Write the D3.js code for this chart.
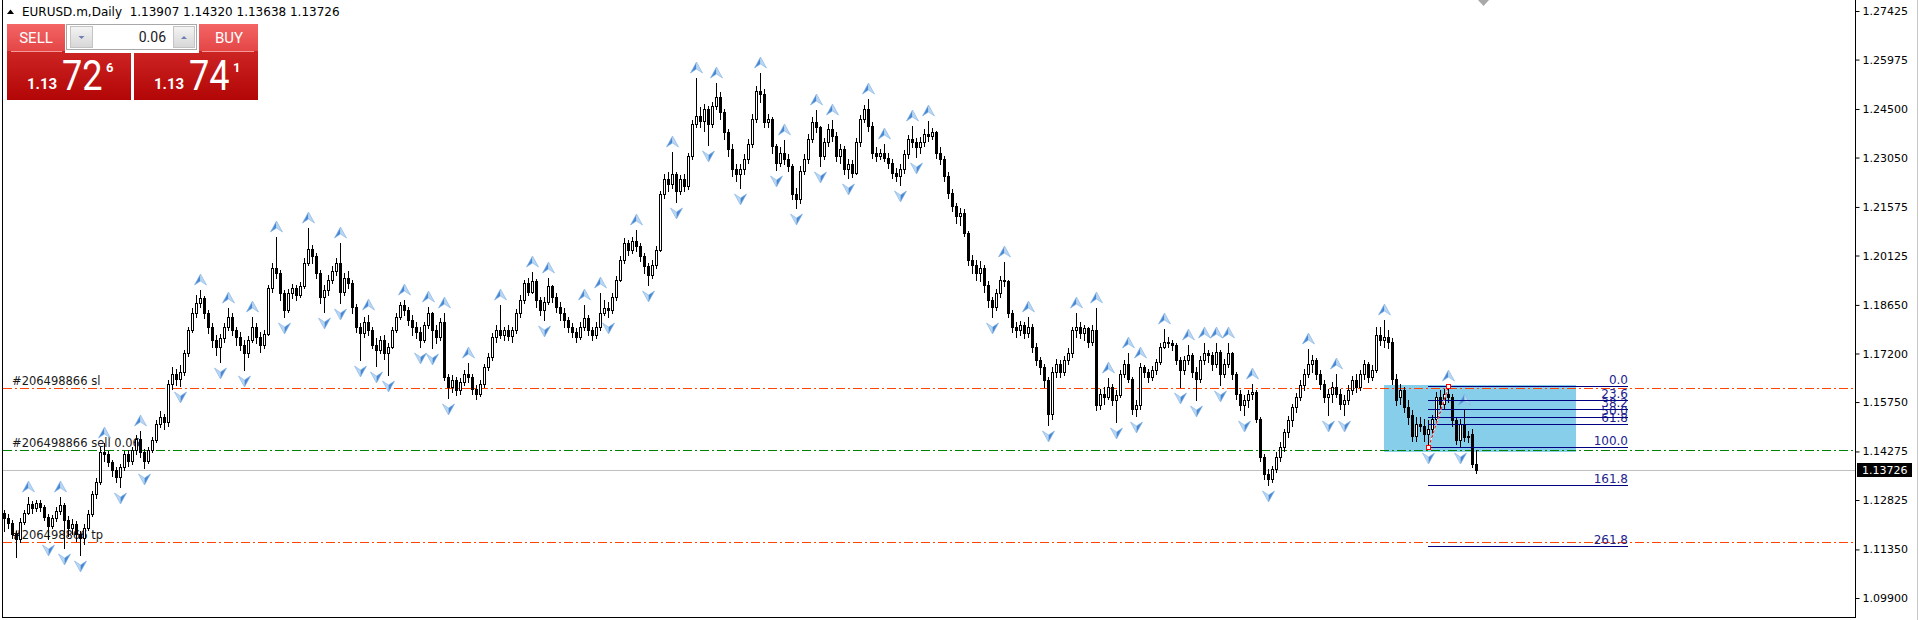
<!DOCTYPE html>
<html>
<head>
<meta charset="utf-8">
<script src="https://cdn.jsdelivr.net/npm/d3@7"></script>
<style>
  body { margin: 0; background: #fff; overflow: hidden; }
  svg { display: block; }
  text { font-family: "DejaVu Sans", sans-serif; }
</style>
</head>
<body>
<svg id="chart" width="1919" height="620"></svg>
<script>
// EURUSD.m daily bars (oldest first)
var opens = [
1.1245,1.1228,1.1215,1.1180,1.1165,1.1218,1.1245,1.1272,1.1258,1.1275,
1.1262,1.1232,1.1205,1.1228,1.1250,1.1268,1.1222,1.1200,1.1212,1.1180,
1.1170,1.1200,1.1240,1.1300,1.1335,1.1425,1.1420,1.1395,1.1372,1.1350,
1.1382,1.1420,1.1398,1.1432,1.1465,1.1425,1.1400,1.1432,1.1462,1.1510,
1.1530,1.1515,1.1630,1.1660,1.1645,1.1665,1.1720,1.1790,1.1840,1.1870,
1.1885,1.1840,1.1800,1.1760,1.1740,1.1765,1.1800,1.1830,1.1790,1.1770,
1.1745,1.1720,1.1760,1.1800,1.1770,1.1745,1.1778,1.1915,1.1975,1.1960,
1.1900,1.1850,1.1900,1.1915,1.1895,1.1920,1.1990,1.2032,1.2010,1.1960,
1.1890,1.1910,1.1940,1.1965,1.1990,1.1905,1.1945,1.1930,1.1860,1.1800,
1.1780,1.1815,1.1790,1.1745,1.1730,1.1760,1.1720,1.1740,1.1790,1.1830,
1.1865,1.1850,1.1820,1.1800,1.1785,1.1760,1.1805,1.1840,1.1790,1.1770,
1.1814,1.1650,1.1620,1.1640,1.1610,1.1635,1.1660,1.1650,1.1615,1.1600,
1.1630,1.1680,1.1710,1.1770,1.1790,1.1775,1.1790,1.1772,1.1790,1.1840,
1.1880,1.1930,1.1905,1.1935,1.1880,1.1850,1.1875,1.1920,1.1890,1.1860,
1.1840,1.1820,1.1800,1.1785,1.1770,1.1800,1.1825,1.1790,1.1775,1.1800,
1.1840,1.1855,1.1850,1.1890,1.1940,1.2000,1.2050,1.2030,1.2055,1.2040,
1.2010,1.1980,1.1955,1.1985,1.2030,1.2195,1.2240,1.2225,1.2255,1.2205,
1.2240,1.2220,1.2310,1.2405,1.2430,1.2415,1.2450,1.2405,1.2460,1.2485,
1.2440,1.2380,1.2330,1.2270,1.2255,1.2270,1.2300,1.2345,1.2420,1.2505,
1.2495,1.2410,1.2420,1.2340,1.2290,1.2320,1.2300,1.2280,1.2195,1.2180,
1.2265,1.2300,1.2360,1.2410,1.2395,1.2310,1.2350,1.2390,1.2370,1.2310,
1.2330,1.2270,1.2285,1.2260,1.2350,1.2420,1.2450,1.2400,1.2320,1.2310,
1.2318,1.2305,1.2290,1.2260,1.2250,1.2270,1.2315,1.2360,1.2350,1.2335,
1.2350,1.2375,1.2370,1.2380,1.2320,1.2300,1.2250,1.2200,1.2160,1.2130,
1.2140,1.2080,1.2000,1.1985,1.1960,1.1975,1.1925,1.1880,1.1860,1.1900,
1.1940,1.1935,1.1840,1.1800,1.1790,1.1805,1.1780,1.1800,1.1740,1.1700,
1.1680,1.1640,1.1540,1.1665,1.1690,1.1665,1.1700,1.1720,1.1790,1.1800,
1.1780,1.1795,1.1755,1.1790,1.1566,1.1600,1.1590,1.1620,1.1580,1.1595,
1.1660,1.1690,1.1645,1.1555,1.1565,1.1680,1.1665,1.1650,1.1670,1.1695,
1.1740,1.1755,1.1750,1.1745,1.1700,1.1670,1.1700,1.1715,1.1665,1.1645,
1.1700,1.1720,1.1715,1.1690,1.1725,1.1660,1.1690,1.1720,1.1660,1.1600,
1.1565,1.1580,1.1600,1.1605,1.1525,1.1410,1.1360,1.1345,1.1375,1.1410,
1.1440,1.1485,1.1520,1.1560,1.1590,1.1625,1.1660,1.1690,1.1700,1.1660,
1.1630,1.1590,1.1600,1.1620,1.1600,1.1570,1.1580,1.1610,1.1640,1.1620,
1.1660,1.1690,1.1650,1.1672,1.1775,1.1760,1.1770,1.1755,1.1645,1.1590,
1.1610,1.1560,1.1535,1.1475,1.1510,1.1505,1.1480,1.1495,1.1525,1.1590,
1.1570,1.1600,1.1590,1.1520,1.1462,1.1510,1.1470,1.1480,1.13907
];
var highs = [
1.1252,1.1240,1.1222,1.1190,1.1228,1.1252,1.1292,1.1280,1.1284,1.1282,
1.1268,1.1240,1.1238,1.1262,1.1292,1.1275,1.1235,1.1225,1.1220,1.1190,
1.1210,1.1252,1.1310,1.1348,1.1440,1.1452,1.1430,1.1402,1.1382,1.1390,
1.1428,1.1432,1.1442,1.1478,1.1488,1.1435,1.1442,1.1472,1.1522,1.1548,
1.1540,1.1642,1.1680,1.1675,1.1685,1.1730,1.1800,1.1855,1.1895,1.1910,
1.1892,1.1850,1.1810,1.1775,1.1778,1.1812,1.1856,1.1840,1.1800,1.1785,
1.1760,1.1772,1.1829,1.1810,1.1785,1.1790,1.1925,1.1990,1.2068,1.1970,
1.1910,1.1912,1.1928,1.1925,1.1932,1.2005,1.2095,1.2045,1.2020,1.1968,
1.1925,1.1955,1.1980,1.2005,1.2050,1.1960,1.1965,1.1940,1.1868,1.1812,
1.1828,1.1835,1.1800,1.1765,1.1772,1.1775,1.1752,1.1800,1.1842,1.1875,
1.1880,1.1860,1.1835,1.1815,1.1800,1.1815,1.1859,1.1845,1.1805,1.1825,
1.1841,1.1660,1.1655,1.1650,1.1648,1.1672,1.1692,1.1660,1.1625,1.1642,
1.1690,1.1722,1.1780,1.1805,1.1865,1.1800,1.1805,1.1800,1.1852,1.1895,
1.1940,1.1945,1.1963,1.1942,1.1890,1.1890,1.1945,1.1925,1.1900,1.1875,
1.1855,1.1830,1.1810,1.1795,1.1815,1.1865,1.1835,1.1800,1.1815,1.1901,
1.1880,1.1875,1.1902,1.1950,1.2012,1.2065,1.2060,1.2068,1.2089,1.2050,
1.2020,1.1990,1.1998,1.2040,1.2205,1.2255,1.2262,1.2321,1.2262,1.2252,
1.2255,1.2320,1.2418,1.2543,1.2455,1.2465,1.2460,1.2472,1.2527,1.2500,
1.2450,1.2390,1.2345,1.2285,1.2285,1.2315,1.2360,1.2435,1.2520,1.2557,
1.2510,1.2435,1.2425,1.2345,1.2335,1.2357,1.2315,1.2285,1.2215,1.2280,
1.2315,1.2375,1.2425,1.2447,1.2400,1.2362,1.2405,1.2417,1.2380,1.2345,
1.2340,1.2300,1.2298,1.2362,1.2432,1.2462,1.2480,1.2410,1.2335,1.2330,
1.2345,1.2320,1.2300,1.2275,1.2285,1.2328,1.2372,1.2399,1.2362,1.2365,
1.2390,1.2414,1.2392,1.2385,1.2335,1.2310,1.2262,1.2210,1.2170,1.2155,
1.2150,1.2085,1.2015,1.2000,1.1995,1.1985,1.1935,1.1890,1.1912,1.1952,
1.1993,1.1940,1.1850,1.1815,1.1818,1.1815,1.1829,1.1808,1.1750,1.1710,
1.1690,1.1650,1.1680,1.1705,1.1700,1.1712,1.1735,1.1800,1.1841,1.1815,
1.1805,1.1800,1.1805,1.1856,1.1615,1.1620,1.1647,1.1628,1.1610,1.1672,
1.1700,1.1722,1.1650,1.1580,1.1692,1.1685,1.1675,1.1682,1.1705,1.1752,
1.1793,1.1770,1.1760,1.1752,1.1710,1.1712,1.1745,1.1722,1.1680,1.1712,
1.1751,1.1730,1.1725,1.1751,1.1730,1.1705,1.1751,1.1725,1.1665,1.1610,
1.1595,1.1612,1.1629,1.1610,1.1530,1.1420,1.1375,1.1385,1.1425,1.1455,
1.1495,1.1532,1.1570,1.1602,1.1640,1.1675,1.1734,1.1715,1.1708,1.1670,
1.1640,1.1615,1.1635,1.1659,1.1615,1.1595,1.1625,1.1652,1.1660,1.1672,
1.1700,1.1695,1.1685,1.1799,1.1800,1.1820,1.1790,1.1765,1.1660,1.1630,
1.1620,1.1580,1.1550,1.1530,1.1530,1.1525,1.1520,1.1535,1.1605,1.1610,
1.1615,1.1623,1.1600,1.1530,1.1525,1.1551,1.1490,1.1495,1.14320
];
var lows = [
1.1190,1.1200,1.1170,1.1112,1.1158,1.1210,1.1240,1.1245,1.1250,1.1250,
1.1222,1.1165,1.1198,1.1220,1.1240,1.1138,1.1175,1.1180,1.1160,1.1118,
1.1150,1.1192,1.1235,1.1290,1.1330,1.1400,1.1385,1.1355,1.1335,1.1320,
1.1372,1.1385,1.1390,1.1420,1.1412,1.1378,1.1392,1.1425,1.1455,1.1500,
1.1495,1.1505,1.1615,1.1625,1.1622,1.1655,1.1712,1.1785,1.1830,1.1860,
1.1825,1.1780,1.1740,1.1715,1.1695,1.1755,1.1790,1.1775,1.1745,1.1730,
1.1671,1.1710,1.1755,1.1750,1.1725,1.1735,1.1775,1.1905,1.1945,1.1880,
1.1829,1.1845,1.1885,1.1880,1.1888,1.1915,1.1985,1.1990,1.1945,1.1870,
1.1844,1.1895,1.1930,1.1955,1.1871,1.1895,1.1915,1.1840,1.1785,1.1701,
1.1770,1.1775,1.1735,1.1683,1.1720,1.1705,1.1656,1.1735,1.1785,1.1822,
1.1835,1.1805,1.1775,1.1765,1.1740,1.1755,1.1795,1.1737,1.1750,1.1760,
1.1640,1.1587,1.1605,1.1595,1.1600,1.1625,1.1635,1.1600,1.1585,1.1592,
1.1620,1.1670,1.1700,1.1755,1.1765,1.1760,1.1760,1.1755,1.1780,1.1830,
1.1870,1.1895,1.1900,1.1860,1.1835,1.1820,1.1868,1.1875,1.1845,1.1820,
1.1800,1.1785,1.1770,1.1755,1.1762,1.1790,1.1775,1.1760,1.1765,1.1790,
1.1835,1.1829,1.1840,1.1880,1.1935,1.1990,1.2015,1.2020,1.2025,1.1995,
1.1960,1.1925,1.1945,1.1975,1.2025,1.2185,1.2205,1.2215,1.2172,1.2195,
1.2205,1.2210,1.2300,1.2395,1.2395,1.2385,1.2342,1.2395,1.2450,1.2420,
1.2360,1.2310,1.2250,1.2235,1.2214,1.2255,1.2290,1.2335,1.2410,1.2470,
1.2395,1.2395,1.2320,1.2268,1.2280,1.2285,1.2265,1.2180,1.2154,1.2170,
1.2255,1.2290,1.2350,1.2380,1.2280,1.2300,1.2340,1.2355,1.2295,1.2290,
1.2255,1.2244,1.2248,1.2255,1.2340,1.2410,1.2385,1.2305,1.2295,1.2300,
1.2295,1.2275,1.2245,1.2235,1.2223,1.2260,1.2305,1.2335,1.2307,1.2320,
1.2340,1.2355,1.2360,1.2305,1.2285,1.2235,1.2185,1.2145,1.2110,1.2105,
1.2070,1.1985,1.1960,1.1940,1.1935,1.1905,1.1860,1.1829,1.1850,1.1890,
1.1920,1.1830,1.1785,1.1770,1.1775,1.1765,1.1770,1.1725,1.1685,1.1660,
1.1620,1.1507,1.1525,1.1650,1.1650,1.1655,1.1690,1.1710,1.1770,1.1765,
1.1760,1.1740,1.1745,1.1550,1.1555,1.1570,1.1585,1.1565,1.1516,1.1590,
1.1650,1.1635,1.1540,1.1534,1.1555,1.1650,1.1635,1.1640,1.1660,1.1690,
1.1735,1.1738,1.1730,1.1690,1.1620,1.1660,1.1690,1.1650,1.1581,1.1635,
1.1690,1.1695,1.1670,1.1680,1.1626,1.1650,1.1680,1.1645,1.1585,1.1550,
1.1537,1.1560,1.1585,1.1515,1.1400,1.1345,1.1328,1.1335,1.1365,1.1400,
1.1430,1.1470,1.1505,1.1545,1.1580,1.1610,1.1650,1.1665,1.1645,1.1615,
1.1575,1.1537,1.1575,1.1590,1.1555,1.1537,1.1570,1.1600,1.1605,1.1610,
1.1645,1.1635,1.1640,1.1665,1.1745,1.1740,1.1735,1.1630,1.1565,1.1570,
1.1545,1.1510,1.1460,1.1460,1.1490,1.1460,1.1440,1.1475,1.1515,1.1545,
1.1555,1.1575,1.1505,1.1450,1.1440,1.1460,1.1455,1.1380,1.13638
];
var closes = [
1.1228,1.1215,1.1180,1.1165,1.1218,1.1245,1.1272,1.1258,1.1275,1.1262,
1.1232,1.1205,1.1228,1.1250,1.1268,1.1222,1.1200,1.1212,1.1180,1.1170,
1.1200,1.1240,1.1300,1.1335,1.1425,1.1420,1.1395,1.1372,1.1350,1.1382,
1.1420,1.1398,1.1432,1.1465,1.1425,1.1400,1.1432,1.1462,1.1510,1.1530,
1.1515,1.1630,1.1660,1.1645,1.1665,1.1720,1.1790,1.1840,1.1870,1.1885,
1.1840,1.1800,1.1760,1.1740,1.1765,1.1800,1.1830,1.1790,1.1770,1.1745,
1.1720,1.1760,1.1800,1.1770,1.1745,1.1778,1.1915,1.1975,1.1960,1.1900,
1.1850,1.1900,1.1915,1.1895,1.1920,1.1990,1.2032,1.2010,1.1960,1.1890,
1.1910,1.1940,1.1965,1.1990,1.1905,1.1945,1.1930,1.1860,1.1800,1.1780,
1.1815,1.1790,1.1745,1.1730,1.1760,1.1720,1.1740,1.1790,1.1830,1.1865,
1.1850,1.1820,1.1800,1.1785,1.1760,1.1805,1.1840,1.1790,1.1770,1.1814,
1.1650,1.1620,1.1640,1.1610,1.1635,1.1660,1.1650,1.1615,1.1600,1.1630,
1.1680,1.1710,1.1770,1.1790,1.1775,1.1790,1.1772,1.1790,1.1840,1.1880,
1.1930,1.1905,1.1935,1.1880,1.1850,1.1875,1.1920,1.1890,1.1860,1.1840,
1.1820,1.1800,1.1785,1.1770,1.1800,1.1825,1.1790,1.1775,1.1800,1.1840,
1.1855,1.1850,1.1890,1.1940,1.2000,1.2050,1.2030,1.2055,1.2040,1.2010,
1.1980,1.1955,1.1985,1.2030,1.2195,1.2240,1.2225,1.2255,1.2205,1.2240,
1.2220,1.2310,1.2405,1.2430,1.2415,1.2450,1.2405,1.2460,1.2485,1.2440,
1.2380,1.2330,1.2270,1.2255,1.2270,1.2300,1.2345,1.2420,1.2505,1.2495,
1.2410,1.2420,1.2340,1.2290,1.2320,1.2300,1.2280,1.2195,1.2180,1.2265,
1.2300,1.2360,1.2410,1.2395,1.2310,1.2350,1.2390,1.2370,1.2310,1.2330,
1.2270,1.2285,1.2260,1.2350,1.2420,1.2450,1.2400,1.2320,1.2310,1.2318,
1.2305,1.2290,1.2260,1.2250,1.2270,1.2315,1.2360,1.2350,1.2335,1.2350,
1.2375,1.2370,1.2380,1.2320,1.2300,1.2250,1.2200,1.2160,1.2130,1.2140,
1.2080,1.2000,1.1985,1.1960,1.1975,1.1925,1.1880,1.1860,1.1900,1.1940,
1.1935,1.1840,1.1800,1.1790,1.1805,1.1780,1.1800,1.1740,1.1700,1.1680,
1.1640,1.1540,1.1665,1.1690,1.1665,1.1700,1.1720,1.1790,1.1800,1.1780,
1.1795,1.1755,1.1790,1.1566,1.1600,1.1590,1.1620,1.1580,1.1595,1.1660,
1.1690,1.1645,1.1555,1.1565,1.1680,1.1665,1.1650,1.1670,1.1695,1.1740,
1.1755,1.1750,1.1745,1.1700,1.1670,1.1700,1.1715,1.1665,1.1645,1.1700,
1.1720,1.1715,1.1690,1.1725,1.1660,1.1690,1.1720,1.1660,1.1600,1.1565,
1.1580,1.1600,1.1605,1.1525,1.1410,1.1360,1.1345,1.1375,1.1410,1.1440,
1.1485,1.1520,1.1560,1.1590,1.1625,1.1660,1.1690,1.1700,1.1660,1.1630,
1.1590,1.1600,1.1620,1.1600,1.1570,1.1580,1.1610,1.1640,1.1620,1.1660,
1.1690,1.1650,1.1672,1.1775,1.1760,1.1770,1.1755,1.1645,1.1580,1.1610,
1.1560,1.1530,1.1475,1.1510,1.1505,1.1480,1.1495,1.1525,1.1590,1.1570,
1.1600,1.1590,1.1520,1.1462,1.1510,1.1470,1.1475,1.13907,1.13726
];

// bar indices that carry a fractal arrow
var upFractals = [6,14,25,34,49,56,62,68,76,84,91,100,106,110,116,124,132,136,145,149,158,167,173,178,189,195,203,207,216,220,227,231,250,256,268,273,276,281,284,290,296,300,303,306,312,326,333,345,361,365];
var downFractals = [11,15,19,29,35,44,54,60,70,80,84,89,93,96,104,107,111,135,151,161,168,176,184,193,198,204,211,224,228,247,261,278,283,294,298,304,310,316,331,335,356,364];

// price axis labels
var priceTicks = [1.27425,1.25975,1.24500,1.23050,1.21575,1.20125,1.18650,1.17200,1.15750,1.14275,1.12825,1.11350,1.09900];

// order lines
var orderLevels = [
  {price: 1.16171, label: "#206498866 sl", color: "#ff4500"},
  {price: 1.14320, label: "#206498866 sell 0.06", color: "#008000"},
  {price: 1.11574, label: "#206498866 tp", color: "#ff4500"}
];
var bid = 1.13726, ask = 1.13741, lots = 0.06;
var header = "EURUSD.m,Daily  1.13907 1.14320 1.13638 1.13726";

// fibonacci retracement and rectangle
var fibFrom = {bar: 356, price: 1.1440}, fibTo = {bar: 361, price: 1.1623};
var fibLevels = [0, 23.6, 38.2, 50.0, 61.8, 100, 161.8, 261.8];
var fibEndBar = 406;
var boxBars = [345, 393], boxPrices = [1.1626, 1.1426];

if (opens.length != closes.length || highs.length != closes.length || lows.length != closes.length) {
  throw new Error("length mismatch " + opens.length + " " + highs.length + " " + lows.length + " " + closes.length);
}

var svg = d3.select("#chart");
var axisX = 1855;
var bottomY = 617;

var x = d3.scaleLinear().domain([0, closes.length - 1]).range([4, 4 + 4 * (closes.length - 1)]);
var y = d3.scaleLinear().domain([1.09900, 1.27425]).range([598, 11]);
var cx = function(i){ return Math.round(x(i)); };
var ry = function(p){ return Math.round(y(p)); };

var bars = closes.map(function(c, i){
  return {i: i, o: opens[i], h: highs[i], l: lows[i], c: c};
});

var defs = svg.append("defs");
var clip = defs.append("clipPath").attr("id", "plot");
clip.append("rect").attr("x", 3).attr("y", 1).attr("width", axisX - 3).attr("height", bottomY - 1);

var plot = svg.append("g").attr("clip-path", "url(#plot)");

// background rectangle object
plot.append("rect")
    .attr("x", x(boxBars[0])).attr("width", x(boxBars[1]) - x(boxBars[0]))
    .attr("y", y(boxPrices[0])).attr("height", y(boxPrices[1]) - y(boxPrices[0]))
    .attr("fill", "#87ceeb");

// bid line
plot.append("line")
    .attr("x1", 3).attr("x2", axisX)
    .attr("y1", ry(bid) + 0.5).attr("y2", ry(bid) + 0.5)
    .attr("stroke", "#c0c0c0");

// order lines
plot.selectAll("line.order").data(orderLevels).enter().append("line")
    .attr("class", "order")
    .attr("x1", 3).attr("x2", axisX)
    .attr("y1", function(d){ return ry(d.price) + 0.5; })
    .attr("y2", function(d){ return ry(d.price) + 0.5; })
    .attr("stroke", function(d){ return d.color; })
    .attr("stroke-dasharray", "9,3,2,3");

plot.selectAll("text.order").data(orderLevels).enter().append("text")
    .attr("class", "order")
    .attr("x", 12).attr("y", function(d){ return ry(d.price) - 3; })
    .style("font-size", "11.5px").attr("fill", "#1a1a1a")
    .text(function(d){ return d.label; });

// candles
var candles = plot.append("g");
candles.selectAll("line.wick").data(bars).enter().append("line")
    .attr("class", "wick")
    .attr("x1", function(d){ return cx(d.i) + 0.5; })
    .attr("x2", function(d){ return cx(d.i) + 0.5; })
    .attr("y1", function(d){ return ry(d.h); })
    .attr("y2", function(d){ return ry(d.l) + 1; })
    .attr("stroke", "#000");

candles.selectAll("rect.bear").data(bars.filter(function(d){ return d.c < d.o; })).enter().append("rect")
    .attr("class", "bear")
    .attr("x", function(d){ return cx(d.i) - 1; })
    .attr("width", 3)
    .attr("y", function(d){ return ry(d.o); })
    .attr("height", function(d){ return Math.max(ry(d.c) - ry(d.o) + 1, 1); })
    .attr("fill", "#000");

candles.selectAll("rect.bull").data(bars.filter(function(d){ return d.c >= d.o; })).enter().append("rect")
    .attr("class", "bull")
    .attr("x", function(d){ return cx(d.i) - 0.5; })
    .attr("width", 2)
    .attr("y", function(d){ return ry(d.c) + 0.5; })
    .attr("height", function(d){ return Math.max(ry(d.o) - ry(d.c), 0); })
    .attr("fill", "#fff").attr("stroke", "#000");

// fractal arrows
var up = plot.selectAll("g.up").data(upFractals).enter().append("g")
    .attr("transform", function(i){ return "translate(" + (cx(i) + 0.5) + "," + (ry(highs[i]) - 10) + ")"; });
up.append("path").attr("d", "M0,-6L-6,5L0,1Z").attr("fill", "#4a89d2");
up.append("path").attr("d", "M0,-6L6,5L0,1Z").attr("fill", "#b9d7f3");
up.append("path").attr("d", "M0,-6L-6,5L0,1L6,5Z").attr("fill", "none").attr("stroke", "#7fb0e2").attr("stroke-width", 0.6);

var dn = plot.selectAll("g.dn").data(downFractals).enter().append("g")
    .attr("transform", function(i){ return "translate(" + (cx(i) + 0.5) + "," + (ry(lows[i]) + 11) + ")"; });
dn.append("path").attr("d", "M0,6L-6,-5L0,-1Z").attr("fill", "#b9d7f3");
dn.append("path").attr("d", "M0,6L6,-5L0,-1Z").attr("fill", "#4a89d2");
dn.append("path").attr("d", "M0,6L-6,-5L0,-1L6,-5Z").attr("fill", "none").attr("stroke", "#7fb0e2").attr("stroke-width", 0.6);

// fibonacci
var fib = plot.append("g");
var fibPrice = function(l){ return fibTo.price - l / 100 * (fibTo.price - fibFrom.price); };
fib.selectAll("text").data(fibLevels).enter().append("text")
    .attr("x", x(fibEndBar)).attr("y", function(l){ return ry(fibPrice(l)) - 2; })
    .attr("text-anchor", "end").style("font-size", "12px").attr("fill", "#23238e")
    .text(function(l){ return l.toFixed(1); });
fib.selectAll("line").data(fibLevels).enter().append("line")
    .attr("x1", x(fibFrom.bar)).attr("x2", x(fibEndBar))
    .attr("y1", function(l){ return ry(fibPrice(l)) + 0.5; })
    .attr("y2", function(l){ return ry(fibPrice(l)) + 0.5; })
    .attr("stroke", "#000080");

var tx1 = cx(fibFrom.bar) + 0.5, ty1 = ry(fibFrom.price) + 0.5;
var tx2 = cx(fibTo.bar) + 0.5, ty2 = ry(fibTo.price) + 0.5;
fib.append("line").attr("x1", tx1).attr("y1", ty1).attr("x2", tx2).attr("y2", ty2).attr("stroke", "#fff");
fib.append("line").attr("x1", tx1).attr("y1", ty1).attr("x2", tx2).attr("y2", ty2)
    .attr("stroke", "#ff0000").attr("stroke-dasharray", "3,2");
[[tx1, ty1], [tx2, ty2]].forEach(function(p){
  fib.append("rect").attr("x", p[0] - 2).attr("y", p[1] - 2).attr("width", 4).attr("height", 4)
     .attr("fill", "#fff").attr("stroke", "#ff0000");
});

// chart shift marker
svg.append("path").attr("d", "M1478,0L1489,0L1483.5,6Z").attr("fill", "#a8a8a8");

// frame and price axis
svg.append("line").attr("x1", 2.5).attr("x2", 2.5).attr("y1", 0).attr("y2", bottomY + 1).attr("stroke", "#000");
svg.append("line").attr("x1", 2).attr("x2", axisX + 1).attr("y1", bottomY + 0.5).attr("y2", bottomY + 0.5).attr("stroke", "#000");
svg.append("line").attr("x1", axisX + 0.5).attr("x2", axisX + 0.5).attr("y1", 0).attr("y2", bottomY + 1).attr("stroke", "#000");
svg.append("line").attr("x1", 1917.5).attr("x2", 1917.5).attr("y1", 0).attr("y2", 620).attr("stroke", "#c8c8c8");

var yAxis = d3.axisRight(y).tickValues(priceTicks).tickSize(4).tickPadding(3)
    .tickFormat(function(d){ return d.toFixed(5); });
var ag = svg.append("g").attr("transform", "translate(" + (axisX + 0.5) + ",0)").call(yAxis);
ag.select(".domain").remove();
ag.selectAll(".tick line").attr("stroke", "#000");
ag.selectAll(".tick text").attr("fill", "#000").style("font-size", "11px").style("font-family", "DejaVu Sans");

svg.append("rect").attr("x", 1857).attr("y", ry(bid) - 7).attr("width", 55).attr("height", 14).attr("fill", "#000");
svg.append("text").attr("x", 1862).attr("y", ry(bid) + 4).attr("fill", "#fff").style("font-size", "11px")
   .text(bid.toFixed(5));

// header
svg.append("path").attr("d", "M7,14L10.5,9.5L14,14Z").attr("fill", "#000");
svg.append("text").attr("x", 22).attr("y", 16).style("font-size", "12px").style("white-space", "pre")
   .attr("fill", "#000").text(header);

// one click trading panel
var redTop = defs.append("linearGradient").attr("id", "redTop").attr("x1", 0).attr("x2", 0).attr("y1", 0).attr("y2", 1);
redTop.append("stop").attr("offset", 0).attr("stop-color", "#f46565");
redTop.append("stop").attr("offset", 1).attr("stop-color", "#e44646");
var redBot = defs.append("linearGradient").attr("id", "redBot").attr("x1", 0).attr("x2", 0).attr("y1", 0).attr("y2", 1);
redBot.append("stop").attr("offset", 0).attr("stop-color", "#da3434");
redBot.append("stop").attr("offset", 1).attr("stop-color", "#b30606");
var btn = defs.append("linearGradient").attr("id", "btn").attr("x1", 0).attr("x2", 0).attr("y1", 0).attr("y2", 1);
btn.append("stop").attr("offset", 0).attr("stop-color", "#f4f4f4");
btn.append("stop").attr("offset", 1).attr("stop-color", "#d6d6d6");

function priceBlock(bx, label, labelX, lineX1, lineX2, price) {
  var s = price.toFixed(5);
  var g = svg.append("g");
  g.append("rect").attr("x", bx).attr("y", 24).attr("width", 124).attr("height", 76).attr("fill", "url(#redBot)");
  g.append("rect").attr("x", bx).attr("y", 24).attr("width", 124).attr("height", 27).attr("fill", "url(#redTop)");
  g.append("line").attr("x1", lineX1).attr("x2", lineX2).attr("y1", 51.5).attr("y2", 51.5).attr("stroke", "#f59a9a");
  g.append("text").attr("x", labelX).attr("y", 43).attr("text-anchor", "middle").attr("fill", "#fff")
   .style("font-family", "Roboto").style("font-size", "15px").text(label);
  g.append("text").attr("x", bx + 20).attr("y", 89).attr("fill", "#fff")
   .style("font-family", "Roboto").style("font-weight", "bold").style("font-size", "15px").text(s.slice(0, 4));
  g.append("text").attr("transform", "translate(" + (bx + 55) + ",90) scale(0.86,1)").attr("fill", "#fff")
   .style("font-family", "Roboto").style("font-size", "42px").text(s.slice(4, 6));
  g.append("text").attr("x", bx + 99).attr("y", 72).attr("fill", "#fff")
   .style("font-family", "Roboto").style("font-weight", "bold").style("font-size", "13px").text(s.slice(6));
}
priceBlock(7, "SELL", 36, 11, 62, bid);
priceBlock(134, "BUY", 229, 202, 254, ask);

svg.append("rect").attr("x", 65).attr("y", 23).attr("width", 134).attr("height", 30).attr("fill", "#fff");
svg.append("rect").attr("x", 66.5).attr("y", 24.5).attr("width", 130).attr("height", 25).attr("fill", "#fff").attr("stroke", "#a8a8a8");
[[70, 23], [173, 22]].forEach(function(b, k){
  svg.append("rect").attr("x", b[0] + 0.5).attr("y", 26.5).attr("width", b[1] - 1).attr("height", 21)
     .attr("fill", "url(#btn)").attr("stroke", "#c4c4c4");
  var mx = b[0] + b[1] / 2;
  svg.append("path").attr("d", k == 0 ? "M" + (mx - 3) + ",36L" + (mx + 3) + ",36L" + mx + ",39Z"
                                      : "M" + (mx - 3) + ",39L" + (mx + 3) + ",39L" + mx + ",36Z")
     .attr("fill", "#6f7fb3");
});
svg.append("text").attr("x", 166).attr("y", 42).attr("text-anchor", "end").attr("fill", "#1a1a1a")
   .style("font-family", "Roboto").style("font-size", "14px").text(lots.toFixed(2));
</script>
</body>
</html>
